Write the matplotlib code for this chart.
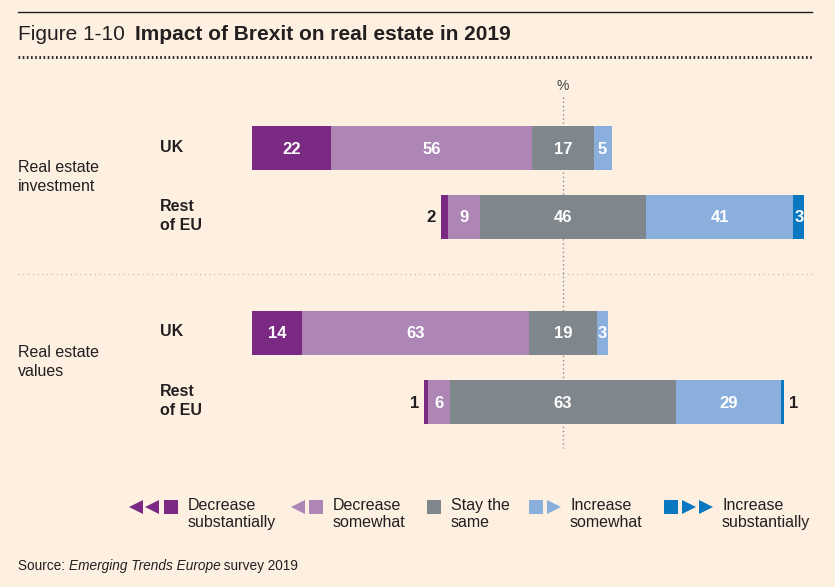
import matplotlib
matplotlib.use("Agg")
import matplotlib.pyplot as plt
from matplotlib.transforms import Affine2D
from matplotlib import font_manager

# ---------------- data ----------------
groups = ["Real estate\ninvestment", "Real estate\nvalues"]
rows = ["UK", "Rest\nof EU", "UK", "Rest\nof EU"]
categories = ["Decrease\nsubstantially", "Decrease\nsomewhat", "Stay the\nsame",
              "Increase\nsomewhat", "Increase\nsubstantially"]
dec_sub = [22, 2, 14, 1]
dec_some = [56, 9, 63, 6]
same = [17, 46, 19, 63]
inc_some = [5, 41, 3, 29]
inc_sub = [0, 3, 0, 1]

title_light = "Figure 1-10"
title_bold = "Impact of Brexit on real estate in 2019"

# ---------------- style ----------------
W, H = 835, 587
BG = "#fdf0e1"
TXT = "#231f20"
colors = ["#7b2a83", "#ad86b5", "#7f878d", "#8aafdd", "#0a78c0"]

names = {f.name for f in font_manager.fontManager.ttflist}
NARROW = "Liberation Sans Narrow" if "Liberation Sans Narrow" in names else "Liberation Sans"
SANS = "Liberation Sans"
plt.rcParams["font.family"] = [SANS, "DejaVu Sans"]

fig = plt.figure(figsize=(W / 100, H / 100), dpi=100, facecolor=BG)
ax = fig.add_axes([0, 0, 1, 1])
ax.set_facecolor(BG)
ax.axis("off")
scale = 3.6      # px per percentage point
x0 = 563         # px position of the centre of "stay the same"
ax.set_xlim(-x0 / scale, (W - x0) / scale)
ax.set_ylim(H, 0)

# pixel transform for decorations/text
px = Affine2D().scale(1 / W, -1 / H).translate(0, 1) + fig.transFigure

# ---------------- header ----------------
ax.plot([18, 812], [12, 12], color=TXT, lw=1.0, transform=px)
ax.text(18, 34, title_light, transform=px, fontsize=15, color=TXT,
        va="center", ha="left", family=[NARROW, "DejaVu Sans"])
ax.text(135, 34, title_bold, transform=px, fontsize=15, color=TXT,
        va="center", ha="left", fontweight="bold", family=[NARROW, "DejaVu Sans"])
ax.plot([18, 812], [57, 57], color=TXT, lw=2.0, ls=(0, (0.6, 0.9)), transform=px)

# ---------------- bars ----------------
bar_y = [148, 217, 333, 402]
bar_h = 44
series = [dec_sub, dec_some, same, inc_some, inc_sub]

# centre vertical dotted line
ax.plot([563, 563], [97, 448], color="#8a8a8a", lw=1.0, ls=(0, (1, 2)),
        transform=px, zorder=1)
ax.text(563, 86, "%", transform=px, ha="center", va="center", fontsize=10,
        color="#444444", family=[NARROW, "DejaVu Sans"])

for i, y in enumerate(bar_y):
    left = -(dec_sub[i] + dec_some[i] + same[i] / 2)
    for k, s in enumerate(series):
        v = s[i]
        if v <= 0:
            continue
        ax.barh(y, v, left=left, height=bar_h, color=colors[k], zorder=2, lw=0)
        cx = left + v / 2
        if v >= 3:
            ax.text(cx, y + 1, str(v), ha="center", va="center", color="white",
                    fontsize=12, fontweight="bold", zorder=3,
                    family=[NARROW, "DejaVu Sans"])
        else:
            if k < 2:
                ax.text(left - 1.3, y + 1, str(v), ha="right", va="center",
                        color=TXT, fontsize=12, fontweight="bold",
                        family=[NARROW, "DejaVu Sans"])
            else:
                ax.text(left + v + 1.3, y + 1, str(v), ha="left", va="center",
                        color=TXT, fontsize=12, fontweight="bold",
                        family=[NARROW, "DejaVu Sans"])
        left += v

# row labels
for lab, y in zip(rows, [148, 216, 332, 401]):
    ax.text(160, y, lab, transform=px, ha="left", va="center", fontsize=11.5,
            fontweight="bold", color=TXT, linespacing=1.3)
for lab, y in zip(groups, [177, 362]):
    ax.text(18, y, lab, transform=px, ha="left", va="center", fontsize=11.5,
            color=TXT, linespacing=1.3)

# separator
ax.plot([18, 815], [274, 274], color="#a9a39c", lw=0.8, ls=(0, (0.8, 3.5)),
        transform=px)

# ---------------- legend ----------------
leg_y = 507
ax.plot([136, 152], [leg_y, leg_y], ls="none", marker="<", ms=9.5,
        color=colors[0], mew=0, transform=px)
ax.plot([170.5], [leg_y], ls="none", marker="s", ms=10.5, color=colors[0], mew=0,
        transform=px)
ax.plot([298], [leg_y], ls="none", marker="<", ms=9.5, color=colors[1], mew=0,
        transform=px)
ax.plot([315.5], [leg_y], ls="none", marker="s", ms=10.5, color=colors[1], mew=0,
        transform=px)
ax.plot([434], [leg_y], ls="none", marker="s", ms=10.5, color=colors[2], mew=0,
        transform=px)
ax.plot([536], [leg_y], ls="none", marker="s", ms=10.5, color=colors[3], mew=0,
        transform=px)
ax.plot([554], [leg_y], ls="none", marker=">", ms=9.5, color=colors[3], mew=0,
        transform=px)
ax.plot([671], [leg_y], ls="none", marker="s", ms=10.5, color=colors[4], mew=0,
        transform=px)
ax.plot([689, 706], [leg_y, leg_y], ls="none", marker=">", ms=9.5,
        color=colors[4], mew=0, transform=px)

for lab, x in zip(categories, [188, 333, 451, 570, 722]):
    ax.text(x, 514, lab, transform=px, ha="left", va="center", fontsize=11.5,
            color=TXT, linespacing=1.2)

# ---------------- source ----------------
s1 = ax.text(18, 566, "Source: ", transform=px, ha="left", va="center",
             fontsize=9.8, color=TXT)
fig.canvas.draw()
r = fig.canvas.get_renderer()
bb = s1.get_window_extent(r)
s2 = ax.text(bb.x1, H - 566, "Emerging Trends Europe", transform=None,
             ha="left", va="center", fontsize=9.8, color=TXT, style="italic")
bb2 = s2.get_window_extent(r)
ax.text(bb2.x1, H - 566, " survey 2019", transform=None, ha="left",
        va="center", fontsize=9.8, color=TXT)

fig.savefig("out.png", dpi=100, facecolor=BG)
